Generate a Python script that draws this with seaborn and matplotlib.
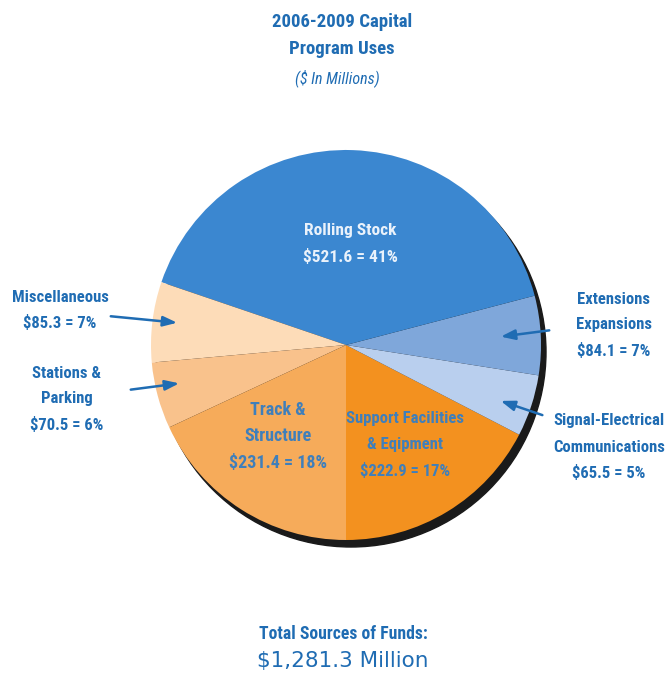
import matplotlib
matplotlib.use("Agg")
import matplotlib.pyplot as plt
from matplotlib.patches import Circle
import seaborn as sns

# ---- data ----
categories = ["Support Facilities & Eqipment", "Signal-Electrical Communications",
              "Extensions Expansions", "Rolling Stock", "Miscellaneous",
              "Stations & Parking", "Track & Structure"]
values = [222.9, 65.5, 84.1, 521.6, 85.3, 70.5, 231.4]
percents = [17, 5, 7, 41, 7, 6, 18]
colors = ["#f3911f", "#b9cfee", "#7fa7da", "#3b87d0", "#fddcb8", "#f9c28c", "#f6ab5a"]
total_label = "$1,281.3 Million"

sns.set_theme(style="white")
NARROW = ["Roboto Condensed", "Open Sans Condensed", "Liberation Sans Narrow",
          "Roboto", "DejaVu Sans"]
plt.rcParams["font.family"] = NARROW

W, H = 669, 674
fig = plt.figure(figsize=(W / 100, H / 100), dpi=100)
ax = fig.add_axes([0, 0, 1, 1])

def Y(y):
    return H - y

cx, cy, r = 346, Y(345), 195
# drop shadow
ax.add_patch(Circle((cx + 5, cy - 7), r, color="#1a1a1a", zorder=1))
wedges, _ = ax.pie(values, colors=colors, startangle=-90, counterclock=True,
                   center=(cx, cy), radius=r, frame=True,
                   wedgeprops=dict(linewidth=0))
for w in wedges:
    w.set_zorder(2)
ax.set_xlim(0, W)
ax.set_ylim(0, H)
ax.set_aspect("equal")
ax.axis("off")

blue = "#1f6cb3"
inner = "#3f7fbb"
fs = 12

def label(x, ys, lines, color=blue, size=fs):
    for y, t in zip(ys, lines):
        ax.text(x, Y(y), t, ha="center", va="center", fontsize=size,
                fontweight="bold", color=color, zorder=5)

# title
label(342, [22, 49], ["2006-2009 Capital", "Program Uses"], size=13.5)
ax.text(337, Y(78), "($ In Millions)", ha="center", va="center", fontsize=11.5,
        fontstyle="italic", color=blue, zorder=5)

def vl(i):
    return f"${values[i]} = {percents[i]}%"

label(350, [230, 257], ["Rolling Stock", vl(3)], color="#eaf2fb", size=12.5)
label(60, [297, 323], ["Miscellaneous", vl(4)])
label(67, [373, 399, 425], ["Stations &", "Parking", vl(5)])
label(614, [299, 325, 351], ["Extensions", "Expansions", vl(2)])
label(609, [421, 447, 473], ["Signal-Electrical", "Communications", vl(1)])
label(278, [410, 436, 463], ["Track &", "Structure", vl(6)], color=inner, size=13)
label(405, [418, 445, 471], ["Support Facilities", "& Eqipment", vl(0)], color=inner)

# arrows
arrows = [((108, 316), (180, 323)), ((128, 390), (182, 383)),
          ((552, 330), (498, 337)), ((545, 416), (498, 400))]
for (x0, y0), (x1, y1) in arrows:
    ax.annotate("", xy=(x1, Y(y1)), xytext=(x0, Y(y0)),
                arrowprops=dict(arrowstyle="-|>,head_length=0.7,head_width=0.25",
                                color=blue, lw=1.8), zorder=6)

label(343, [634], ["Total Sources of Funds:"], size=12.7)
ax.text(343, Y(661), total_label, ha="center", va="center", fontsize=15.5,
        color=blue, family=["DejaVu Sans"], zorder=5)

fig.savefig("out.png", dpi=100, facecolor="white")
